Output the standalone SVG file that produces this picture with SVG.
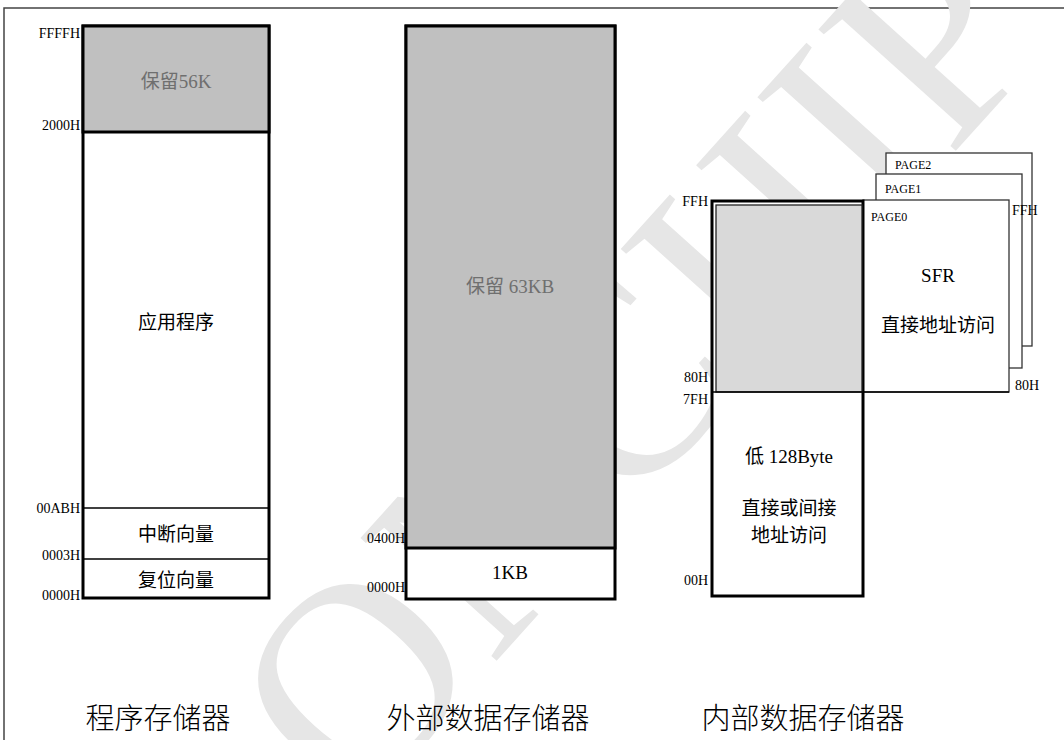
<svg xmlns="http://www.w3.org/2000/svg" width="1064" height="740" viewBox="0 0 1064 740">
<style>
.box{fill:#fff;stroke:#000;stroke-width:3}
.res{fill:#c0c0c0;stroke:#000;stroke-width:3}
.div{stroke:#000;stroke-width:1.3;fill:none}
.page{fill:#fff;stroke:#333;stroke-width:1.3}
.addr{font-family:"Liberation Serif","Noto Sans CJK SC",serif;font-size:14px;fill:#000}
.addrR{font-family:"Liberation Serif","Noto Sans CJK SC",serif;font-size:14px;fill:#000;text-anchor:end}
.lbl{font-family:"Liberation Serif","Noto Sans CJK SC",serif;font-size:19px;fill:#000;text-anchor:middle}
.gray{fill:#6f6f6f}
.pg{font-family:"Liberation Serif",serif;font-size:12px;fill:#000}
.title{font-family:"Noto Sans CJK SC",sans-serif;font-size:29px;fill:#000;text-anchor:middle;font-weight:300}
.wm{font-family:"Liberation Serif",serif;font-size:280px;fill:#e6e6e6}
</style>
<path d="M4,740 V8 H1064" fill="none" stroke="#444" stroke-width="1.5"/>
<text class="wm" transform="translate(356,817) rotate(-48)">ONCHIP</text>

<g id="program-memory">
<rect class="box" x="83" y="26" width="186" height="572"/>
<rect class="res" x="83" y="26" width="186" height="106"/>
<line class="div" x1="83" y1="508" x2="269" y2="508"/>
<line class="div" x1="83" y1="559" x2="269" y2="559"/>
<text class="lbl gray" x="176" y="88">保留56K</text>
<text class="lbl" x="176" y="329">应用程序</text>
<text class="lbl" x="176" y="541">中断向量</text>
<text class="lbl" x="176" y="587">复位向量</text>
<text class="addrR" x="80" y="38">FFFFH</text>
<text class="addrR" x="80" y="130">2000H</text>
<text class="addrR" x="80" y="513">00ABH</text>
<text class="addrR" x="80" y="560">0003H</text>
<text class="addrR" x="80" y="600">0000H</text>
</g>

<g id="external-data-memory">
<rect class="box" x="406" y="26" width="209" height="573"/>
<rect class="res" x="406" y="26" width="209" height="522"/>
<text class="lbl gray" x="510" y="293">保留 63KB</text>
<text class="lbl" x="510" y="579">1KB</text>
<text class="addrR" x="405" y="543">0400H</text>
<text class="addrR" x="405" y="592">0000H</text>
</g>

<g id="sfr-pages">
<rect class="page" x="886" y="153" width="146" height="193"/>
<text class="pg" x="895" y="169">PAGE2</text>
<rect class="page" x="876" y="174" width="146" height="194"/>
<text class="pg" x="885" y="193">PAGE1</text>
<rect class="page" x="863" y="200" width="146" height="192"/>
<text class="pg" x="871" y="221">PAGE0</text>
<text class="lbl" x="938" y="282">SFR</text>
<text class="lbl" x="938" y="332">直接地址访问</text>
<text class="addr" x="1012" y="215">FFH</text>
<text class="addr" x="1015" y="390">80H</text>
</g>

<g id="internal-data-memory">
<rect class="box" x="712" y="201" width="151" height="395"/>
<rect x="716" y="205" width="146" height="187" fill="#d9d9d9" stroke="#222" stroke-width="1.3"/>
<line class="div" x1="712" y1="392" x2="1009" y2="392"/>
<text class="lbl" x="789" y="463">低 128Byte</text>
<text class="lbl" x="789" y="515">直接或间接</text>
<text class="lbl" x="789" y="542">地址访问</text>
<text class="addrR" x="708" y="206">FFH</text>
<text class="addrR" x="708" y="382">80H</text>
<text class="addrR" x="708" y="404">7FH</text>
<text class="addrR" x="708" y="585">00H</text>
</g>

<g id="titles">
<text class="title" x="158" y="729">程序存储器</text>
<text class="title" x="488" y="729">外部数据存储器</text>
<text class="title" x="803" y="729">内部数据存储器</text>
</g>
</svg>
